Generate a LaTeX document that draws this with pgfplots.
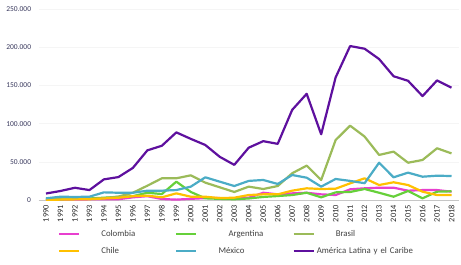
\documentclass[border=0pt]{standalone}
\usepackage{fontspec}
\setmainfont{Carlito}
\usepackage{pgfplots}
\usepackage{pgfplotstable}
\pgfplotsset{compat=1.18}
\definecolor{ccol}{HTML}{E83FCF}
\definecolor{carg}{HTML}{66D03A}
\definecolor{cbra}{HTML}{9BBB59}
\definecolor{cchi}{HTML}{FFC000}
\definecolor{cmex}{HTML}{4BACC6}
\definecolor{calc}{HTML}{5E109E}
\definecolor{ytk}{HTML}{3A3A5E}
\definecolor{txt}{HTML}{404040}
\pgfplotstableread{
year col arg bra chi mex alc
1990 500 500 1000 0 2200 8500
1991 500 1000 1500 500 4300 11800
1992 700 1500 2000 800 4000 16000
1993 800 2000 1500 1000 4300 13000
1994 1000 3000 2500 2000 10000 27000
1995 1000 4000 4500 3000 9500 30000
1996 3500 5000 9500 5000 9500 42000
1997 5000 9500 18700 5700 12200 65000
1998 1300 7800 28400 3500 12200 71000
1999 500 24000 28400 8700 13000 88500
2000 1500 10500 32300 4300 17500 80000
2001 2500 2200 22700 4300 29700 72000
2002 2500 1500 16600 2500 24000 56500
2003 1500 1000 10500 3000 18300 46000
2004 3000 2000 17500 6500 25000 68500
2005 9500 4000 14400 7400 26200 77000
2006 7400 5200 18300 7400 21000 73500
2007 8700 6500 35000 12200 32700 118000
2008 9500 9500 45000 15300 29200 139000
2009 7400 3500 26200 14400 17500 86000
2010 6500 10000 78500 14800 27500 160500
2011 14000 10500 97300 21800 25000 201500
2012 15300 14400 83000 28400 22000 198000
2013 16100 9500 59000 19600 48800 184500
2014 16100 4300 63300 23200 29700 162000
2015 12200 11800 48800 19600 35800 156000
2016 13000 2200 52400 10900 30500 136000
2017 13000 10900 67700 6500 31800 156500
2018 10900 11400 61000 6500 31400 147000
}\datatable
\begin{document}
\begin{tikzpicture}
\useasboundingbox (-38.75bp,-65bp) rectangle (422.25bp,200bp);
\begin{axis}[
  at={(0,0)}, anchor=south west,
  scale only axis, width=420bp, height=191bp,
  xmin=1989.5, xmax=2018.5, ymin=0, ymax=250000,
  xtick={1990,...,2018}, ytick={0,50000,100000,150000,200000,250000},
  scaled ticks=false,
  /pgf/number format/assume math mode=true,
  axis lines*=left,
  y axis line style={draw=none},
  x axis line style={draw=gray!45, line width=0.8bp},
  major tick style={draw=none},
  ymajorgrids, grid style={draw=gray!8, line width=0.5bp},
  yticklabel style={font=\fontsize{7.5bp}{9bp}\selectfont, text=ytk, inner sep=0pt, xshift=-7.5bp, /pgf/number format/.cd, fixed, 1000 sep={.}},
  xticklabel style={font=\fontsize{8.3bp}{10bp}\selectfont, text=black!85, rotate=90, anchor=east, inner xsep=5bp, inner ysep=0pt, /pgf/number format/.cd, 1000 sep={}},
  every axis plot/.append style={line width=2.2bp, line join=round, no markers},
  legend columns=3,
  legend style={at={(0.0458,-0.2225)}, anchor=west, draw=none, fill=none,
    inner sep=0pt, font=\fontsize{8.8bp}{10bp}\selectfont, text=txt,
    nodes={inner sep=0pt, text width=74bp, align=left, text height=6.5bp, text depth=2bp},
    /tikz/every odd column/.append style={column sep=21bp},
    /tikz/every even column/.append style={column sep=0bp},
    row sep=8.5bp},
  legend image code/.code={\draw[#1, line width=2.2bp] (0bp,0bp) -- (20bp,0bp);},
]
\addplot[ccol] table[x=year, y=col] {\datatable};
\addlegendentry{Colombia}
\addplot[carg] table[x=year, y=arg] {\datatable};
\addlegendentry{\hspace*{10bp}Argentina}
\addplot[cbra] table[x=year, y=bra] {\datatable};
\addlegendentry{Brasil}
\addplot[cchi] table[x=year, y=chi] {\datatable};
\addlegendentry{Chile}
\addplot[cmex] table[x=year, y=mex] {\datatable};
\addlegendentry{México}
\addplot[calc] table[x=year, y=alc] {\datatable};
\addlegendentry{\hspace*{-19bp}\makebox[74bp][l]{América Latina y el Caribe}}
\end{axis}
\end{tikzpicture}
\end{document}
